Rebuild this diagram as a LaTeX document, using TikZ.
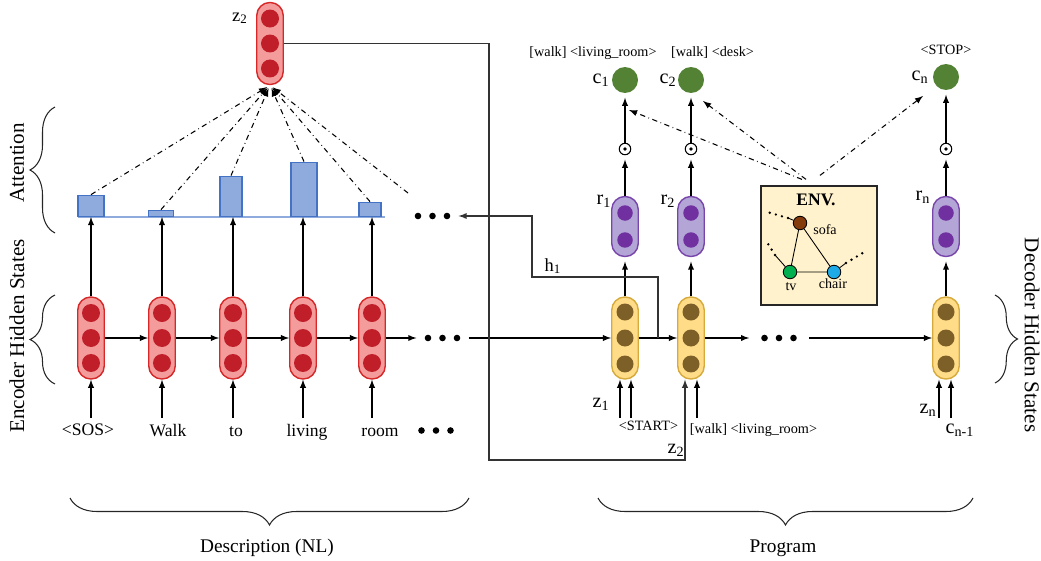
\documentclass[tikz,border=0pt]{standalone}
\usepackage{fontspec}
\setmainfont{Liberation Serif}
\usetikzlibrary{calc,decorations.pathreplacing}
\definecolor{encfill}{RGB}{244,156,156}
\definecolor{encdraw}{RGB}{214,40,40}
\definecolor{encdot}{RGB}{192,30,40}
\definecolor{decfill}{RGB}{255,220,135}
\definecolor{decdraw}{RGB}{214,170,60}
\definecolor{decdot}{RGB}{125,95,40}
\definecolor{rfill}{RGB}{180,165,215}
\definecolor{rdraw}{RGB}{120,70,170}
\definecolor{rdot}{RGB}{112,48,160}
\definecolor{cgreen}{RGB}{84,130,53}
\definecolor{barfill}{RGB}{143,170,220}
\definecolor{bardraw}{RGB}{68,114,196}
\definecolor{envfill}{RGB}{255,242,204}
\definecolor{sofacol}{RGB}{133,60,12}
\definecolor{tvcol}{RGB}{0,176,80}
\definecolor{chaircol}{RGB}{30,170,230}
\tikzset{
  >=latex,
}
\tikzstyle{enc}=[draw=encdraw,fill=encfill,line width=0.8pt,rounded corners=0.26cm,minimum width=0.53cm,minimum height=1.64cm,inner sep=0pt]
\tikzstyle{dec}=[draw=decdraw,fill=decfill,line width=0.8pt,rounded corners=0.26cm,minimum width=0.53cm,minimum height=1.64cm,inner sep=0pt]
\tikzstyle{rnode}=[draw=rdraw,fill=rfill,line width=0.8pt,rounded corners=0.26cm,minimum width=0.53cm,minimum height=1.2cm,inner sep=0pt]
\tikzstyle{cnode}=[circle,fill=cgreen,minimum size=0.52cm,inner sep=0pt]
\tikzstyle{odot}=[circle,draw,line width=0.6pt,minimum size=0.23cm,inner sep=0pt,path picture={\fill (path picture bounding box.center) circle (0.038cm);}]
\tikzstyle{bar}=[draw=bardraw,fill=barfill,line width=0.8pt,anchor=south,inner sep=0pt]
\tikzstyle{dots}=[minimum width=1.03cm,minimum height=0.2cm,inner sep=0pt]
\tikzstyle{conn}=[->,line width=0.6pt]
\tikzstyle{gap}=[->,line width=0.6pt,shorten >=2.5pt]
\tikzstyle{feed}=[->,gray!40!black,line width=0.6pt]
\tikzstyle{attn}=[->,dash dot,line width=0.6pt]
\tikzstyle{brc}=[decorate,gray!30!black,line width=0.6pt]
\tikzstyle{word}=[font=\fontsize{10}{12}\selectfont,anchor=base,inner sep=0pt]
\tikzstyle{lab}=[font=\fontsize{11.5}{13}\selectfont,anchor=base,inner sep=0pt]
\tikzstyle{small}=[font=\fontsize{8.1}{9}\selectfont,anchor=base,inner sep=0pt]
\tikzstyle{side}=[font=\fontsize{12}{14}\selectfont,inner sep=0pt]
\tikzstyle{obj}=[circle,draw,line width=0.5pt,minimum size=0.27cm,inner sep=0pt]
\tikzstyle{stub}=[line width=1.5pt,line cap=round,dash pattern=on 0pt off 3.6pt]

\begin{document}
\begin{tikzpicture}[x=0.02cm,y=-0.02cm]
    \useasboundingbox (0,0) rectangle (1041,561);
    % encoder
    \node[enc] (zt) at (270,43.5) {};
    \node[enc] (e1) at (91,338) {};
    \node[enc] (e2) at (162,338) {};
    \node[enc] (e3) at (233,338) {};
    \node[enc] (e4) at (303,338) {};
    \node[enc] (e5) at (372,338) {};
    \foreach \n in {zt,e1,e2,e3,e4,e5} {
      \fill[encdot] (\n.center) circle (0.18cm);
      \fill[encdot] ([yshift=0.5cm]\n.center) circle (0.18cm);
      \fill[encdot] ([yshift=-0.5cm]\n.center) circle (0.18cm);
    }
    \node[lab,font=\fontsize{10.5}{12}\selectfont] (ztl) at (240,21) {z\textsubscript{2}};
    \node[word] (w1) at (88,435) {<SOS>};
    \node[word] (w2) at (168,436) {Walk};
    \node[word] (w3) at (236,436) {to};
    \node[word] (w4) at (307,436) {living};
    \node[word] (w5) at (380,436) {room};
    \node[dots] (dW) at (436,430.5) {};
    \node[dots] (dB) at (442.5,338) {};
    \node[dots] (dA) at (432.5,216) {};
    % attention
    \draw[barfill,line width=1.2pt] (78,217) -- (385,217);
    \node[bar,minimum width=0.52cm,minimum height=0.42cm] (b1) at (91,217) {};
    \node[bar,minimum width=0.5cm,minimum height=0.12cm] (b2) at (161,217) {};
    \node[bar,minimum width=0.44cm,minimum height=0.8cm] (b3) at (231,217) {};
    \node[bar,minimum width=0.52cm,minimum height=1.08cm] (b4) at (304,217) {};
    \node[bar,minimum width=0.44cm,minimum height=0.28cm] (b5) at (370,217) {};
    \coordinate (a6) at (408,193);
    \foreach \n in {1,...,5} {
      \draw[conn] ($(e\n.south)+(0,38)$) -- (e\n.south);
      \draw[conn] (e\n.north) -- (e\n.north |- b\n.south);
      \draw[attn,shorten >=2pt] (b\n.north) -- (zt.south);
    }
    \draw[attn,shorten >=2pt] (a6) -- (zt.south);
    \draw[conn] (e1) -- (e2);
    \draw[conn] (e2) -- (e3);
    \draw[conn] (e3) -- (e4);
    \draw[conn] (e4) -- (e5);
    \draw[conn] (e5) -- (dB);
    % decoder
    \node[dec] (d1) at (625,338) {};
    \node[dec] (d2) at (691,338) {};
    \node[dec] (d3) at (946,338) {};
    \node[dots,minimum width=1.18cm] (dC) at (779,338) {};
    \foreach \n in {d1,d2,d3} {
      \fill[decdot] (\n.center) circle (0.17cm);
      \fill[decdot] ([yshift=0.52cm]\n.center) circle (0.17cm);
      \fill[decdot] ([yshift=-0.52cm]\n.center) circle (0.17cm);
    }
    \foreach \n in {dA,dB,dW,dC} {
      \foreach \dx in {-0.29,0,0.29}
        \fill ([xshift=\dx cm]\n.center) circle (0.066cm);
    }
    \node[rnode] (r1) at (625,226.5) {};
    \node[rnode] (r2) at (691,226.5) {};
    \node[rnode] (r3) at (946,226.5) {};
    \foreach \n in {r1,r2,r3} {
      \fill[rdot] ([yshift=0.27cm]\n.center) circle (0.155cm);
      \fill[rdot] ([yshift=-0.27cm]\n.center) circle (0.155cm);
    }
    \node[odot] (o1) at (625,149) {};
    \node[odot] (o2) at (691,149) {};
    \node[odot] (o3) at (946,149) {};
    \node[cnode] (c1) at (625,80) {};
    \node[cnode] (c2) at (691,80) {};
    \node[cnode] (c3) at (946,77) {};
    \foreach \n in {1,2,3} {
      \draw[gap] (d\n) -- (r\n);
      \draw[gap] (r\n) -- (o\n);
      \draw[gap] (o\n) -- (c\n);
    }
    \draw[conn] (dB) -- (d1);
    \draw[conn] (d1) -- (d2);
    \draw[conn] (d2) -- (dC);
    \draw[conn] (dC) -- (d3);
    \draw[conn] ($(d1.south)+(-5,38)$) -- ($(d1.south)+(-5,0)$);
    \draw[conn] ($(d1.south)+(6,38)$) -- ($(d1.south)+(6,0)$);
    \draw[conn] ($(d2.south)+(6,38)$) -- ($(d2.south)+(6,0)$);
    \draw[conn] ($(d3.south)+(-7,38)$) -- ($(d3.south)+(-7,0)$);
    \draw[conn] ($(d3.south)+(5,38)$) -- ($(d3.south)+(5,0)$);
    % feedback lines
    \coordinate (hsplit) at ($(d1.east)!0.5!(d2.west)$);
    \coordinate (hturn) at (532,277);
    \draw[feed] (hsplit) |- (hturn) |- (dA.east);
    \coordinate (zturn) at (489,460);
    \draw[feed] (zt.east) -| (zturn) -| ($(d2.south)+(-6,0)$);
    % labels
    \node[lab,font=\fontsize{10.5}{12}\selectfont] (h1l) at (553,271) {h\textsubscript{1}};
    \node[lab] (z1l) at (601,407) {z\textsubscript{1}};
    \node[lab] (z2l) at (676,453) {z\textsubscript{2}};
    \node[lab] (znl) at (928,413) {z\textsubscript{n}};
    \node[lab] (cml) at (960,433) {c\textsubscript{n-1}};
    \node[small] (startl) at (648.5,430) {<START>};
    \node[small] (in2l) at (753.5,433) {[walk] <living\_room>};
    \node[lab] (r1l) at (604,204) {r\textsubscript{1}};
    \node[lab] (r2l) at (668,204) {r\textsubscript{2}};
    \node[lab] (r3l) at (923,200) {r\textsubscript{n}};
    \node[lab] (c1l) at (601,83) {c\textsubscript{1}};
    \node[lab] (c2l) at (668,83) {c\textsubscript{2}};
    \node[lab] (c3l) at (920,80) {c\textsubscript{n}};
    \node[small] (o1l) at (593,56) {[walk] <living\_room>};
    \node[small] (o2l) at (712.5,56) {[walk] <desk>};
    \node[small] (o3l) at (946,54) {<STOP>};
    % environment
    \node[draw=gray!30!black,fill=envfill,line width=0.7pt,minimum width=2.32cm,minimum height=2.38cm] (env) at (819,245.5) {};
    \node[font=\fontsize{10}{12}\selectfont\bfseries,anchor=base,inner sep=0pt] (envl) at (816,205) {ENV.};
    \node[obj,fill=sofacol] (sofa) at (800,223) {};
    \node[obj,fill=tvcol] (tv) at (790,272) {};
    \node[obj,fill=chaircol] (chair) at (834,272) {};
    \draw[line width=0.5pt] (sofa) -- (tv) -- (chair) -- (sofa);
    \coordinate (s1) at (788,218);
    \coordinate (s0) at (767,212);
    \coordinate (t1) at (775,255);
    \coordinate (t0) at (765,239);
    \coordinate (k1) at (846,263);
    \coordinate (k0) at (866,251);
    \draw[line width=0.5pt] (sofa) -- (s1);
    \draw[line width=0.5pt] (tv) -- (t1);
    \draw[line width=0.5pt] (chair) -- (k1);
    \draw[stub] (s1) -- (s0);
    \draw[stub] (t1) -- (t0);
    \draw[stub] (k1) -- (k0);
    \node[small,font=\fontsize{8}{9}\selectfont] (sofal) at (825,234) {sofa};
    \node[small,font=\fontsize{8}{9}\selectfont] (tvl) at (791,290) {tv};
    \node[small,font=\fontsize{8}{9}\selectfont] (chairl) at (833,288) {chair};
    \coordinate (c1in) at (629,110);
    \coordinate (c2in) at (703,101);
    \coordinate (c3in) at (923,96);
    \draw[attn] ($(env.north)+(-17,-6)$) -- (c1in);
    \draw[attn] ($(env.north)+(-13,-6)$) -- (c2in);
    \draw[attn] ($(env.north)+(1,-10)$) -- (c3in);
    % braces
    \draw[brc,decoration={brace,amplitude=0.5cm}] (55,233) -- (55,107);
    \draw[brc,decoration={brace,amplitude=0.5cm}] (55,384) -- (55,295);
    \draw[brc,decoration={brace,amplitude=0.45cm}] (995,295) -- (995,383);
    \draw[brc,decoration={brace,amplitude=0.54cm}] (469,498) -- (70,498);
    \draw[brc,decoration={brace,amplitude=0.54cm}] (973,498) -- (598,498);
    \node[side,rotate=90] (attl) at (17,163) {Attention};
    \node[side,rotate=90] (encl) at (17,336) {Encoder Hidden States};
    \node[side,rotate=-90] (decl) at (1032,335) {Decoder Hidden States};
    \node[lab,font=\fontsize{11}{13}\selectfont] (descl) at (267,552) {Description (NL)};
    \node[lab,font=\fontsize{11}{13}\selectfont] (progl) at (783,552) {Program};
\end{tikzpicture}
\end{document}
